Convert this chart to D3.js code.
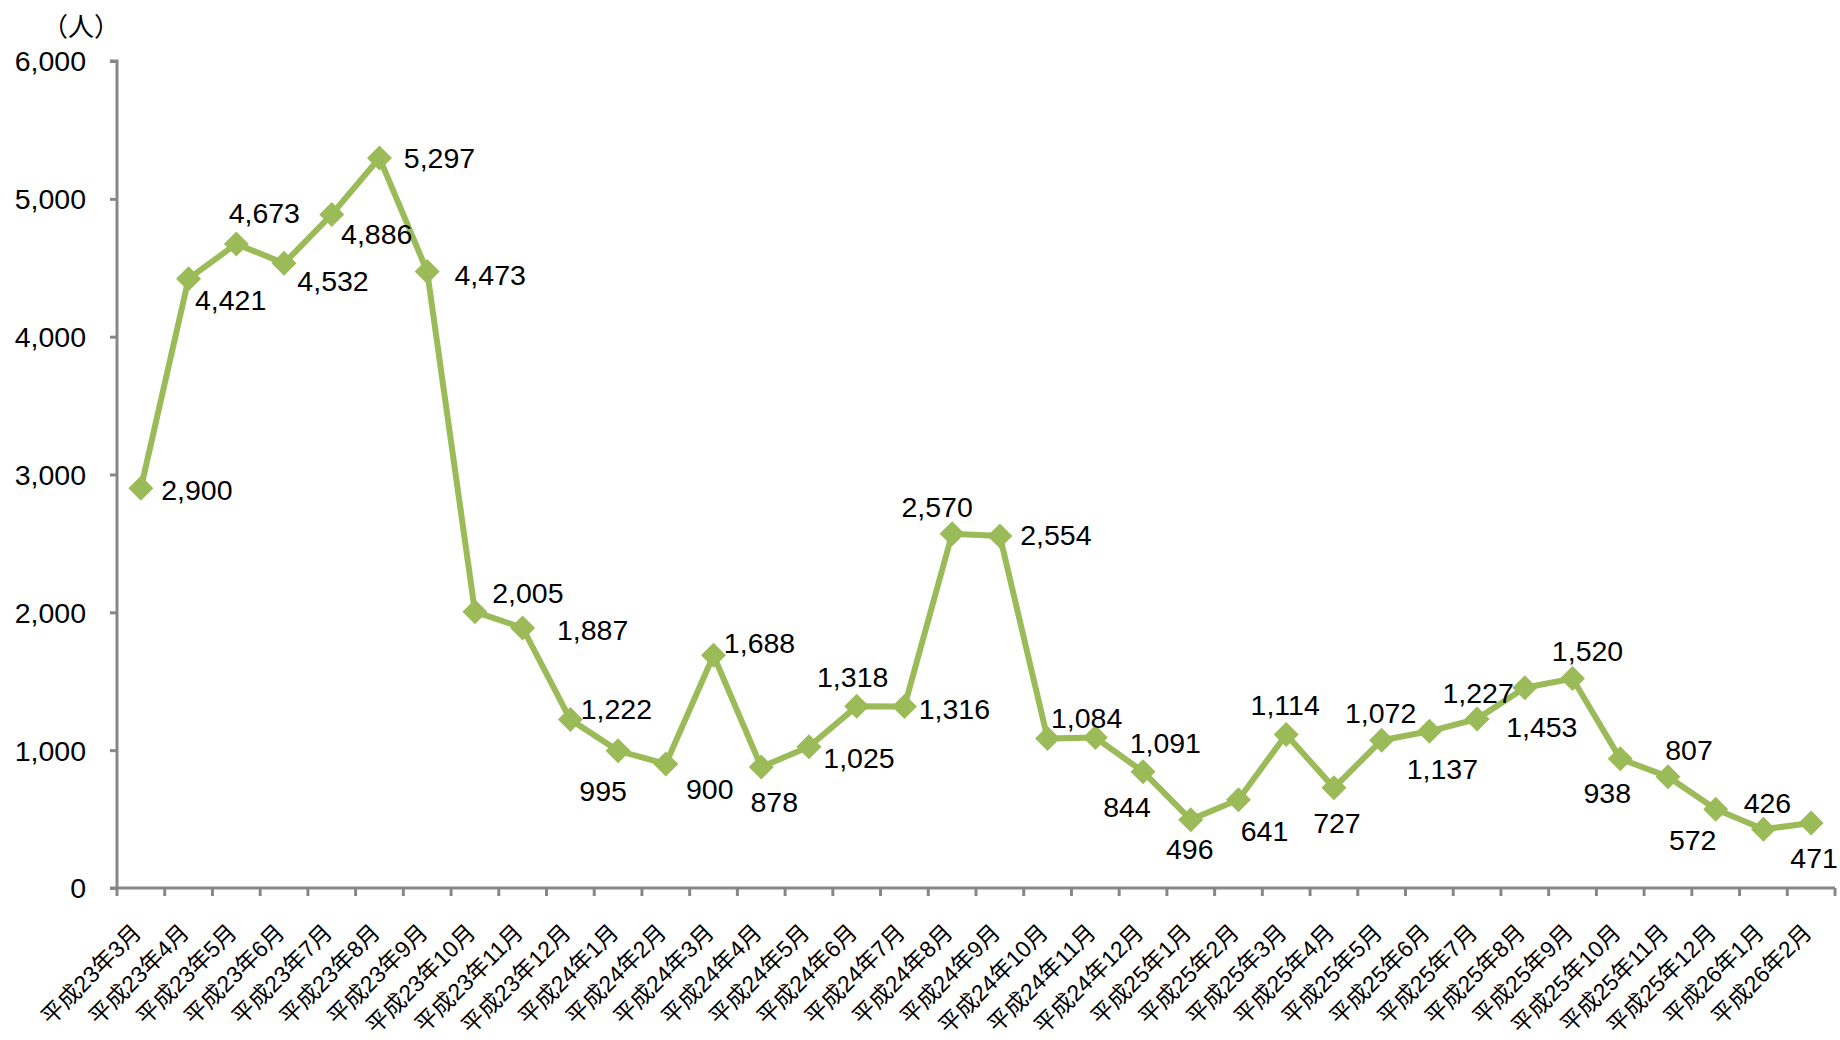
<!DOCTYPE html>
<html>
<head>
<meta charset="utf-8">
<script src="https://cdn.jsdelivr.net/npm/d3@7"></script>
<style>
  html, body { margin: 0; padding: 0; background: #fff; }
  svg { display: block; }
  .num { font-family: "Liberation Sans", Arial, sans-serif; font-size: 28.5px; fill: #000; }
  .cjk { font-family: "Liberation Sans", "Noto Sans CJK JP", sans-serif; fill: #000; }
</style>
</head>
<body>
<svg id="chart" width="1840" height="1040"></svg>
<script>
// Monthly counts (人), 平成23年3月 – 平成26年2月
const months = [
  "平成23年3月", "平成23年4月", "平成23年5月", "平成23年6月", "平成23年7月", "平成23年8月",
  "平成23年9月", "平成23年10月", "平成23年11月", "平成23年12月", "平成24年1月", "平成24年2月",
  "平成24年3月", "平成24年4月", "平成24年5月", "平成24年6月", "平成24年7月", "平成24年8月",
  "平成24年9月", "平成24年10月", "平成24年11月", "平成24年12月", "平成25年1月", "平成25年2月",
  "平成25年3月", "平成25年4月", "平成25年5月", "平成25年6月", "平成25年7月", "平成25年8月",
  "平成25年9月", "平成25年10月", "平成25年11月", "平成25年12月", "平成26年1月", "平成26年2月"
];
const counts = [
  2900, 4421, 4673, 4532, 4886, 5297,
  4473, 2005, 1887, 1222, 995, 900,
  1688, 878, 1025, 1318, 1316, 2570,
  2554, 1084, 1091, 844, 496, 641,
  1114, 727, 1072, 1137, 1227, 1453,
  1520, 938, 807, 572, 426, 471
];
const yTicks = [0, 1000, 2000, 3000, 4000, 5000, 6000];
const unitLabel = "（人）";

// Where each value label sits relative to its marker (dx, dy in px)
const labelOffsets = [
  [56, 2], [42, 21], [28, -31], [49, 18], [45, 19], [60, 0],
  [63, 4], [53, -19], [70, 2], [46, -11], [-15, 40], [44, 25],
  [46, -12], [13, 35], [50, 11], [-4, -29], [50, 2], [-15, -27],
  [56, -1], [39, -21], [70, 5], [-16, 35], [-1, 29], [26, 31],
  [-1, -29], [3, 35], [-1, -27], [13, 38], [1, -26], [17, 39],
  [15, -27], [-13, 34], [21, -27], [-23, 31], [4, -26], [3, 35]
];

const svg = d3.select("#chart");
const plotLeft = 117, plotRight = 1835, plotTop = 61, plotBottom = 888;
const green = "#9BBB59", axisGray = "#878787";

const x = d3.scaleBand().domain(months).range([plotLeft, plotRight]);
const y = d3.scaleLinear().domain([0, 6000]).range([plotBottom, plotTop]);
const cx = d => x(d) + x.bandwidth() / 2;

// Y axis
const yAxis = svg.append("g").attr("transform", `translate(${plotLeft},0)`)
  .call(d3.axisLeft(y).tickValues(yTicks).tickSize(7).tickPadding(24).tickFormat(d3.format(",")));
yAxis.select(".domain").attr("stroke", axisGray).attr("stroke-width", 3).attr("d", `M-7,${plotTop}H0V${plotBottom}`);
yAxis.selectAll(".tick line").attr("stroke", axisGray).attr("stroke-width", 3);
yAxis.selectAll(".tick text").attr("class", "num").attr("dy", "0.35em");

// X axis: ticks at band boundaries
const xg = svg.append("g");
xg.append("line").attr("x1", plotLeft - 7).attr("x2", plotRight).attr("y1", plotBottom).attr("y2", plotBottom)
  .attr("stroke", axisGray).attr("stroke-width", 3);
const boundaries = months.map(m => x(m)).concat([plotRight]);
xg.selectAll("line.tk").data(boundaries).join("line").attr("class", "tk")
  .attr("x1", d => d).attr("x2", d => d).attr("y1", plotBottom).attr("y2", plotBottom + 8)
  .attr("stroke", axisGray).attr("stroke-width", 3);
xg.selectAll("text").data(months).join("text")
  .attr("class", "cjk")
  .attr("font-size", 23)
  .attr("text-anchor", "end")
  .attr("transform", d => `translate(${cx(d) + 2},${plotBottom + 46}) rotate(-45)`)
  .text(d => d);

// Unit label
svg.append("text").attr("class", "cjk").attr("font-size", 26)
  .attr("x", 42).attr("y", 36).text(unitLabel);

// Line
const line = d3.line().x((d, i) => cx(months[i])).y(d => y(d));
svg.append("path").datum(counts).attr("d", line)
  .attr("fill", "none").attr("stroke", green).attr("stroke-width", 6).attr("stroke-linejoin", "miter");

// Diamond markers
const r = 12.5;
svg.selectAll("path.mk").data(counts).join("path").attr("class", "mk")
  .attr("d", (d, i) => {
    const px = cx(months[i]), py = y(d);
    return `M${px},${py - r}L${px + r},${py}L${px},${py + r}L${px - r},${py}Z`;
  })
  .attr("fill", green);

// Value labels
svg.selectAll("text.val").data(counts).join("text").attr("class", "num val")
  .attr("text-anchor", "middle").attr("dy", "0.35em")
  .attr("x", (d, i) => cx(months[i]) + labelOffsets[i][0])
  .attr("y", (d, i) => y(d) + labelOffsets[i][1])
  .text(d => d3.format(",")(d));
</script>
</body>
</html>
